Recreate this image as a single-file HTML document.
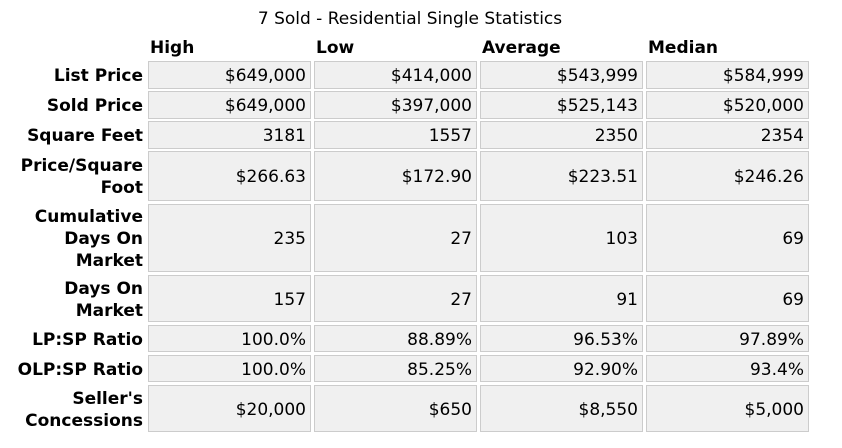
<!DOCTYPE html>
<html><head><meta charset="utf-8"><style>
body{margin:0;width:842px;height:448px;background:#fff;font-family:"DejaVu Sans",Verdana,sans-serif;font-size:17px;color:#000;position:relative;overflow:hidden}
.t{position:absolute;left:0;width:820px;text-align:center;top:9px}
.h{position:absolute;top:38px;font-weight:bold}
.l{position:absolute;left:0;width:143px;text-align:right;font-weight:bold;display:flex;align-items:center;justify-content:flex-end;line-height:22px;padding-top:2px;box-sizing:border-box}
.c{position:absolute;background:#f0f0f0;border:1px solid #ccc;display:flex;align-items:center;justify-content:flex-end;box-sizing:border-box;padding-right:4px;padding-top:2px;width:163px}
</style></head><body>
<div class="t">7 Sold - Residential Single Statistics</div>
<div class="h" style="left:150px">High</div>
<div class="h" style="left:316px">Low</div>
<div class="h" style="left:482px">Average</div>
<div class="h" style="left:648px">Median</div>
<div id="g"></div>
<script>
var rows=[["List Price",61,28,["$649,000","$414,000","$543,999","$584,999"]],
["Sold Price",91,28,["$649,000","$397,000","$525,143","$520,000"]],
["Square Feet",121,28,["3181","1557","2350","2354"]],
["Price/Square<br>Foot",151,50,["$266.63","$172.90","$223.51","$246.26"]],
["Cumulative<br>Days On<br>Market",204,68,["235","27","103","69"]],
["Days On<br>Market",275,47,["157","27","91","69"]],
["LP:SP Ratio",325,27,["100.0%","88.89%","96.53%","97.89%"]],
["OLP:SP Ratio",355,27,["100.0%","85.25%","92.90%","93.4%"]],
["Seller's<br>Concessions",385,47,["$20,000","$650","$8,550","$5,000"]]];
var xs=[148,314,480,646],h="";
rows.forEach(function(r){h+='<div class="l" style="top:'+r[1]+'px;height:'+r[2]+'px">'+r[0]+'</div>';
r[3].forEach(function(v,i){h+='<div class="c" style="left:'+xs[i]+'px;top:'+r[1]+'px;height:'+r[2]+'px">'+v+'</div>';});});
document.getElementById('g').innerHTML=h;
</script>
</body></html>
